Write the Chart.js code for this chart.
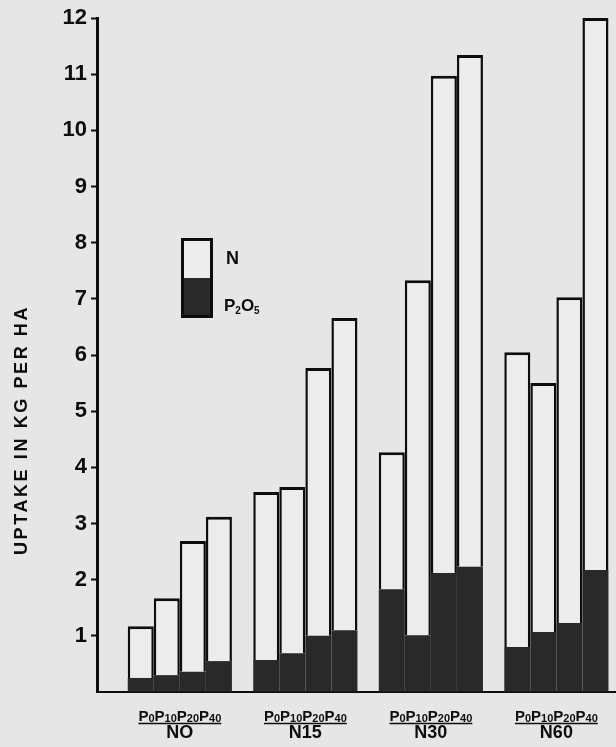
<!DOCTYPE html>
<html>
<head>
<meta charset="utf-8">
<title>Uptake in kg per ha</title>
<script src="https://cdn.jsdelivr.net/npm/chart.js@4/dist/chart.umd.min.js"></script>
<style>
    html, body { margin: 0; padding: 0; background: #e6e6e6; }
    #wrap { width: 616px; height: 747px; position: relative; }
</style>
</head>
<body>
<div id="wrap"><canvas id="uptake-chart"></canvas></div>
<script>
(function() {
    'use strict';

    // Nitrogen rates, one group of bars each
    const nGroups = ['NO', 'N15', 'N30', 'N60'];
    // Phosphorus rates, one bar per rate inside each group
    const pLevels = ['P0', 'P10', 'P20', 'P40'];
    const pSubs = ['0', '10', '20', '40'];

    // P2O5 uptake (dark, bottom part), values for NO, N15, N30, N60
    const p2o5P0  = [0.25, 0.57, 1.83, 0.80];
    const p2o5P10 = [0.30, 0.69, 1.01, 1.07];
    const p2o5P20 = [0.36, 1.00, 2.12, 1.23];
    const p2o5P40 = [0.55, 1.10, 2.23, 2.17];

    // N uptake (white, stacked on top of P2O5)
    const nP0  = [0.92, 2.99, 2.44, 5.25];
    const nP10 = [1.37, 2.96, 6.32, 4.43];
    const nP20 = [2.33, 4.77, 8.85, 5.80];
    const nP40 = [2.57, 5.56, 9.11, 9.83];

    // y axis
    const yMin = 0;
    const yMax = 12;

    const FONT = "'Liberation Sans', Arial, Helvetica, sans-serif";
    const LIGHT = '#ececec';
    const DARK = '#292929';
    const INK = '#0d0d0d';

    // group centre sits a bit right of the whole unit because of the gap at the axis
    const GROUP_OFFSET = 0.66;
    const X_MAX = 4.135;

    const p2o5Series = [p2o5P0, p2o5P10, p2o5P20, p2o5P40];
    const nSeries = [nP0, nP10, nP20, nP40];

    function toPoints(values) {
        return values.map(function(v, i) {
            return { x: i + GROUP_OFFSET, y: v };
        });
    }

    const datasets = [];
    pLevels.forEach(function(level, j) {
        datasets.push({
            label: 'P2O5 ' + level,
            stack: level,
            data: toPoints(p2o5Series[j]),
            backgroundColor: DARK,
            borderWidth: 0
        });
        datasets.push({
            label: 'N ' + level,
            stack: level,
            data: toPoints(nSeries[j]),
            backgroundColor: LIGHT,
            borderColor: INK,
            borderWidth: { top: 3, left: 2.5, right: 2.5, bottom: 0 },
            borderSkipped: 'bottom'
        });
    });

    /**
     * Draw a run of text where some parts are subscripts.
     * Returns the total width.
     */
    function drawSubText(ctx, parts, x, y, bigFont, smallFont, drop, measureOnly) {
        let cx = x;
        parts.forEach(function(p) {
            ctx.font = p.sub ? smallFont : bigFont;
            const w = ctx.measureText(p.t).width;
            if (!measureOnly) {
                ctx.fillText(p.t, cx, p.sub ? y + drop : y);
            }
            cx += w;
        });
        return cx - x;
    }

    const extras = {
        id: 'extras',
        afterDraw: function(chart) {
            const ctx = chart.ctx;
            const xs = chart.scales.x;
            const area = chart.chartArea;

            ctx.save();
            ctx.fillStyle = INK;
            ctx.strokeStyle = INK;
            ctx.textAlign = 'left';
            ctx.textBaseline = 'alphabetic';

            // x labels: P rates (underlined) and N rate under them
            const pParts = [];
            pSubs.forEach(function(s) {
                pParts.push({ t: 'P', sub: false });
                pParts.push({ t: s, sub: true });
            });
            const bigF = 'bold 15px ' + FONT;
            const smallF = 'bold 11px ' + FONT;
            nGroups.forEach(function(name, i) {
                const cx = xs.getPixelForValue(i + GROUP_OFFSET);
                const w = drawSubText(ctx, pParts, 0, 0, bigF, smallF, 1, true);
                const x0 = cx - w / 2;
                drawSubText(ctx, pParts, x0, area.bottom + 29, bigF, smallF, 1, false);
                ctx.lineWidth = 1.5;
                ctx.beginPath();
                ctx.moveTo(x0, area.bottom + 31.5);
                ctx.lineTo(x0 + w, area.bottom + 31.5);
                ctx.stroke();

                ctx.font = 'bold 18px ' + FONT;
                ctx.textAlign = 'center';
                ctx.fillText(name, cx, area.bottom + 46);
                ctx.textAlign = 'left';
            });

            // y axis title
            ctx.save();
            ctx.translate(22, 430);
            ctx.rotate(-Math.PI / 2);
            ctx.font = 'bold 18px ' + FONT;
            ctx.letterSpacing = '2.6px';
            ctx.textAlign = 'center';
            ctx.textBaseline = 'middle';
            ctx.fillText('UPTAKE IN KG PER HA', 0, 0);
            ctx.restore();

            // legend box
            const bx = area.left + 84;
            const by = area.top + 220;
            const bw = 32;
            const bh = 80;
            ctx.fillStyle = LIGHT;
            ctx.fillRect(bx, by, bw, bh / 2);
            ctx.fillStyle = DARK;
            ctx.fillRect(bx, by + bh / 2, bw, bh / 2);
            ctx.lineWidth = 3;
            ctx.strokeRect(bx + 1.5, by + 1.5, bw - 3, bh - 3);

            ctx.fillStyle = INK;
            ctx.font = 'bold 18px ' + FONT;
            ctx.fillText('N', bx + 45, by + 26);
            drawSubText(ctx, [
                { t: 'P', sub: false }, { t: '2', sub: true },
                { t: 'O', sub: false }, { t: '5', sub: true }
            ], bx + 43, by + 73, 'bold 17px ' + FONT, 'bold 10px ' + FONT, 3, false);

            ctx.restore();
        }
    };

    const ctx = document.getElementById('uptake-chart');

    new Chart(ctx, {
        type: 'bar',
        data: { datasets: datasets },
        options: {
            responsive: true,
            maintainAspectRatio: false,
            animation: false,
            devicePixelRatio: 1,
            layout: { padding: { top: 18, right: 0, bottom: 0, left: 0 } },
            datasets: {
                bar: {
                    categoryPercentage: 0.83,
                    barPercentage: 1.0
                }
            },
            plugins: {
                legend: { display: false },
                tooltip: { enabled: false }
            },
            scales: {
                x: {
                    type: 'linear',
                    min: 0,
                    max: X_MAX,
                    offset: false,
                    stacked: true,
                    afterBuildTicks: function(scale) {
                        scale.ticks = nGroups.map(function(g, i) {
                            return { value: i + GROUP_OFFSET };
                        });
                    },
                    afterFit: function(scale) {
                        scale.height = 55;
                    },
                    ticks: { display: false },
                    grid: { display: true, drawOnChartArea: false, drawTicks: false },
                    border: { display: true, color: INK, width: 2 }
                },
                y: {
                    min: yMin,
                    max: yMax,
                    stacked: true,
                    afterFit: function(scale) {
                        scale.width = 97;
                    },
                    ticks: {
                        stepSize: 1,
                        padding: 4,
                        color: INK,
                        font: { family: FONT, size: 22, weight: 'bold' },
                        callback: function(v) {
                            return v === 0 ? '' : v;
                        }
                    },
                    grid: {
                        drawOnChartArea: false,
                        drawTicks: true,
                        tickLength: 6,
                        tickWidth: 2,
                        tickColor: function(c) {
                            return c.tick && c.tick.value === 0 ? 'rgba(0,0,0,0)' : INK;
                        }
                    },
                    border: { display: true, color: INK, width: 3 }
                }
            }
        },
        plugins: [extras]
    });
})();
</script>
</body>
</html>
